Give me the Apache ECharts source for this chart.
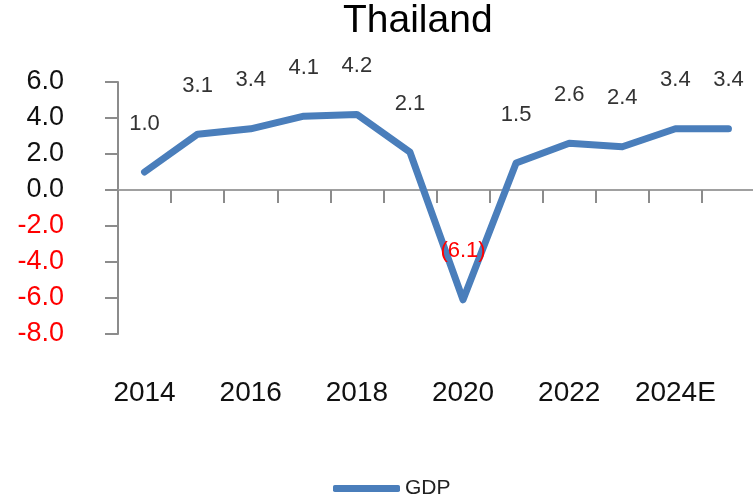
<!DOCTYPE html>
<html>
<head>
<meta charset="utf-8">
<script src="https://cdn.jsdelivr.net/npm/echarts@6/dist/echarts.min.js"></script>
<style>
  html, body { margin: 0; padding: 0; background: #fff; }
  #chart { width: 753px; height: 499px; }
</style>
</head>
<body>
<div id="chart"></div>
<script>
// years on the x axis
const years = ['2014', '2015', '2016', '2017', '2018', '2019', '2020', '2021', '2022', '2023', '2024E', '2025E'];
// GDP growth, %
const gdp = [1.0, 3.1, 3.4, 4.1, 4.2, 2.1, -6.1, 1.5, 2.6, 2.4, 3.4, 3.4];

const font = 'Liberation Sans, Arial, sans-serif';
const chart = echarts.init(document.getElementById('chart'));

chart.setOption({
  animation: false,
  title: {
    text: 'Thailand',
    left: 343,
    top: 2,
    padding: 0,
    textStyle: { fontSize: 39, fontWeight: 'normal', color: '#000', fontFamily: font }
  },
  legend: {
    data: ['GDP'],
    left: 333,
    top: 478,
    padding: 0,
    itemWidth: 67,
    itemHeight: 7,
    itemGap: 5,
    icon: 'roundRect',
    textStyle: { fontSize: 21, color: '#222', fontFamily: font }
  },
  grid: { left: 118, top: 82, width: 637, height: 252, containLabel: false, outerBoundsMode: 'none' },
  xAxis: [{
    // axis line through zero, with the ticks
    type: 'category',
    data: years,
    boundaryGap: true,
    axisLine: { onZero: true, lineStyle: { color: '#a0a0a0', width: 2 } },
    axisTick: { show: true, interval: 0, length: 13, lineStyle: { color: '#8c8c8c', width: 2 } },
    axisLabel: { show: false },
    splitLine: { show: false }
  }, {
    // year labels under the plot
    type: 'category',
    data: years,
    position: 'bottom',
    boundaryGap: true,
    axisLine: { show: false, onZero: false },
    axisTick: { show: false },
    axisLabel: {
      interval: 1,
      margin: 45,
      fontSize: 28,
      color: '#111',
      fontFamily: font
    },
    splitLine: { show: false }
  }],
  yAxis: {
    type: 'value',
    min: -8,
    max: 6,
    interval: 2,
    axisLine: { show: true, lineStyle: { color: '#8c8c8c', width: 2 } },
    axisTick: { show: true, length: 13, lineStyle: { color: '#8c8c8c', width: 2 } },
    axisLabel: {
      margin: 54,
      fontSize: 27,
      fontFamily: font,
      formatter: v => v.toFixed(1),
      color: v => (Number(v) < 0 ? '#ff0000' : '#111')
    },
    splitLine: { show: false }
  },
  series: [{
    name: 'GDP',
    type: 'line',
    xAxisIndex: 0,
    // negative values get red labels
    data: gdp.map(v => (v < 0 ? { value: v, label: { color: '#ff0000' } } : v)),
    symbol: 'circle',
    symbolSize: 1,
    showSymbol: true,
    lineStyle: { color: '#4a7ebb', width: 7, cap: 'round', join: 'round' },
    itemStyle: { color: '#4a7ebb' },
    label: {
      show: true,
      position: 'top',
      distance: 37,
      fontSize: 22,
      fontFamily: font,
      color: '#333',
      formatter: p => (p.value < 0 ? '(' + Math.abs(p.value).toFixed(1) + ')' : p.value.toFixed(1))
    },
    labelLayout: { hideOverlap: false }
  }]
});
</script>
</body>
</html>
